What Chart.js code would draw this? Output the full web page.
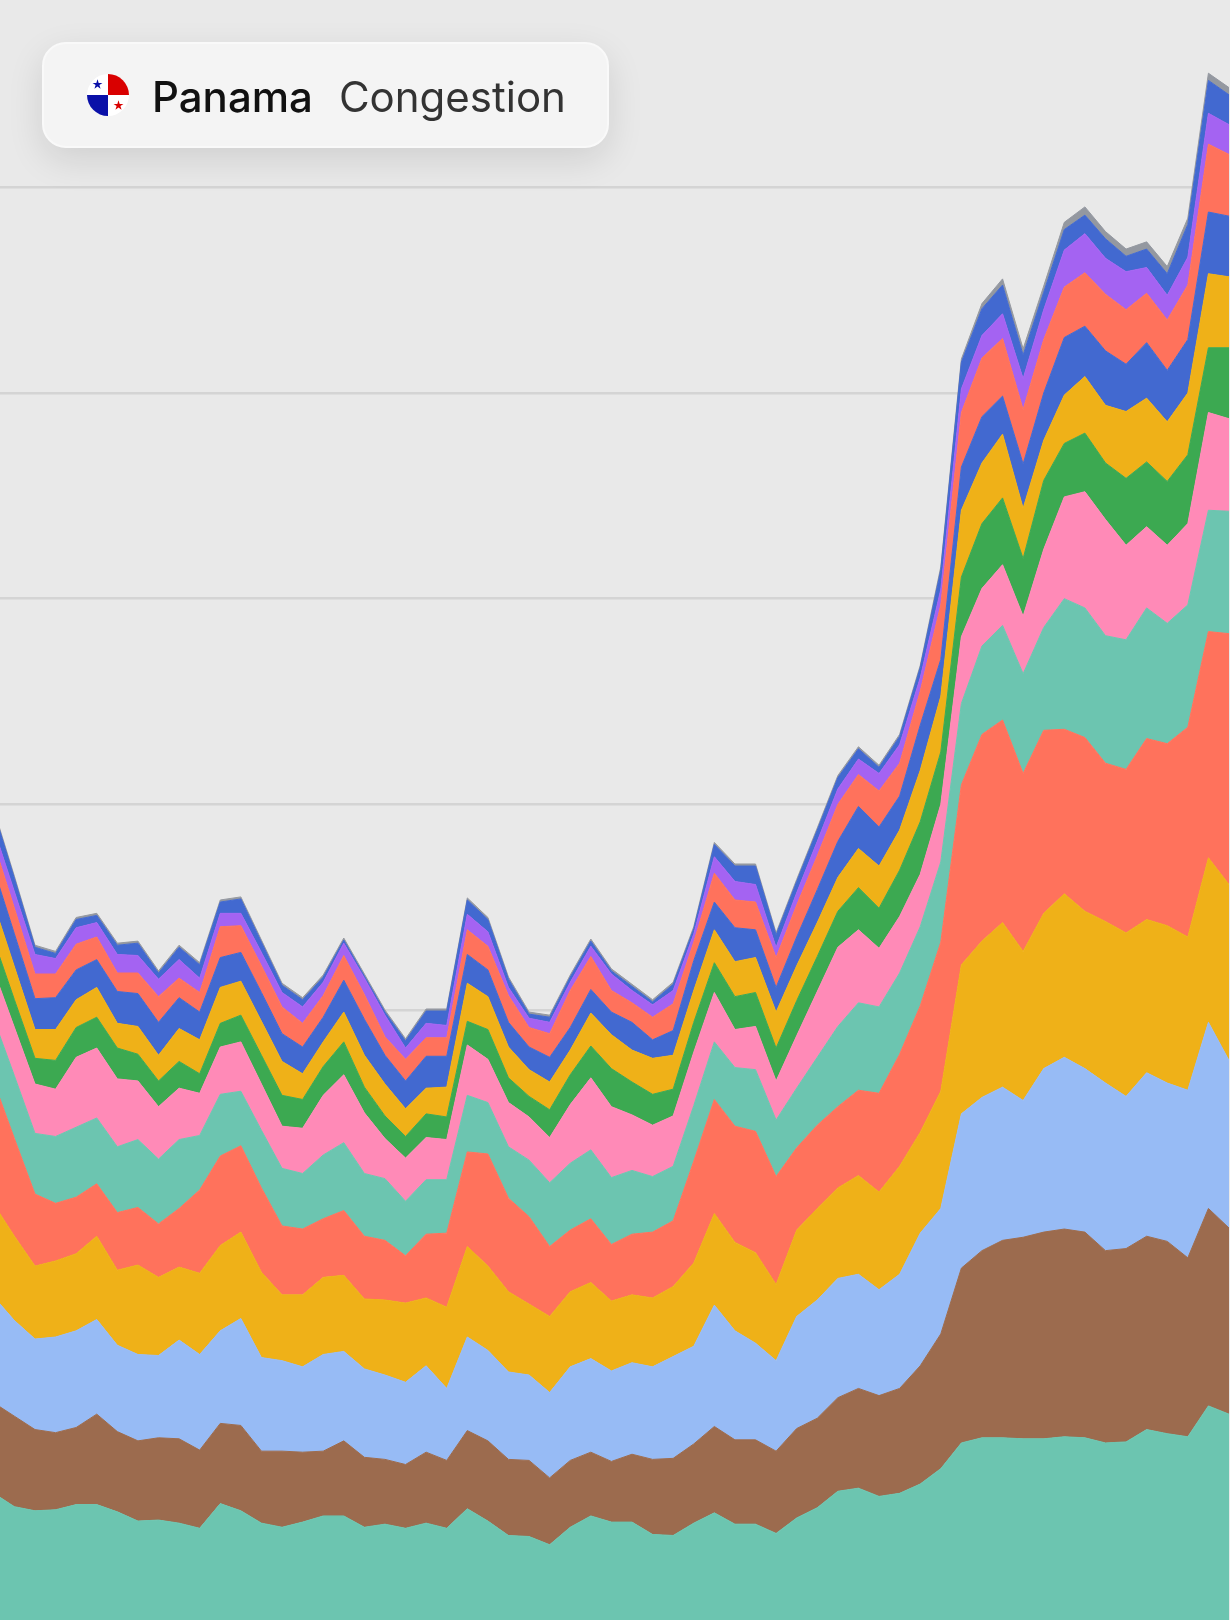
<!DOCTYPE html>
<html>
<head>
<meta charset="utf-8">
<script src="https://cdn.jsdelivr.net/npm/chart.js@4.4.1/dist/chart.umd.min.js"></script>
<style>
    html, body { margin: 0; padding: 0; background: #e9e9e9; width: 1230px; height: 1620px; overflow: hidden; }
    #wrap { position: absolute; left: 0; top: 0; width: 1229px; height: 1620px; }
    .card {
        position: absolute; left: 42px; top: 42px; width: 567px; height: 106px; box-sizing: border-box;
        border-radius: 24px; background: #f4f4f4; border: 2px solid #f9f9f9;
        box-shadow: 0 12px 36px rgba(0, 0, 0, 0.11);
        display: flex; align-items: center; font-family: Inter, 'Noto Sans', sans-serif;
    }
    .flag { margin-left: 43px; width: 42px; height: 42px; display: block; }
    .country { margin-left: 23px; font-size: 42px; font-weight: 500; color: #111; position: relative; top: 1px; }
    .metric { margin-left: 26px; font-size: 42px; font-weight: 400; color: #333; position: relative; top: 1px; }
</style>
</head>
<body>
<div id="wrap"><canvas id="chart" width="1229" height="1620"></canvas></div>

<div class="card">
    <svg class="flag" viewBox="0 0 42 42">
        <defs><clipPath id="c"><circle cx="21" cy="21" r="21"/></clipPath></defs>
        <g clip-path="url(#c)">
            <rect x="0" y="0" width="42" height="42" fill="#ffffff"/>
            <rect x="21" y="0" width="21" height="21" fill="#d90000"/>
            <rect x="0" y="21" width="21" height="21" fill="#0a10a8"/>
            <polygon transform="translate(10.5,10.5) scale(5.2)" fill="#0a10a8"
                points="0,-1 0.2245,-0.309 0.951,-0.309 0.363,0.118 0.588,0.809 0,0.382 -0.588,0.809 -0.363,0.118 -0.951,-0.309 -0.2245,-0.309"/>
            <polygon transform="translate(31.5,31.5) scale(5.2)" fill="#d90000"
                points="0,-1 0.2245,-0.309 0.951,-0.309 0.363,0.118 0.588,0.809 0,0.382 -0.588,0.809 -0.363,0.118 -0.951,-0.309 -0.2245,-0.309"/>
        </g>
    </svg>
    <span class="country">Panama</span>
    <span class="metric">Congestion</span>
</div>

<script>
/***************************************************** Datos *****************************************************/
// periodos (eje x), 61 puntos
const periods = Array.from({ length: 61 }, (_, i) => i);
// lineas de la cuadricula
const gridValues = [200, 400, 600, 800, 1000, 1200, 1400];

// capas apiladas, de abajo hacia arriba
const s01 = [130,117,113,114,119,119,112,103,104,101, 96,120,113,101,97,102,108,108,97,100, 96,101,96,115,103,89,88,80,97,108, 102,102,90,89,101,111,100,100,91,106, 116,132,135,127,130,139,154,179,184,184, 183,183,185,184,179,180,192,188,185,215, 207];
const s02 = [88,88,79,75,75,88,78,78,80,82, 76,78,83,70,74,68,63,73,68,63, 62,69,66,76,78,74,74,65,65,62, 59,66,73,75,77,84,82,82,80,87, 87,91,97,98,102,115,131,170,182,192, 196,201,202,200,187,188,188,187,174,192, 181];
const s03 = [103,93,88,93,94,92,84,84,80,96, 93,90,104,91,88,83,94,87,86,82, 80,84,70,91,88,85,83,83,91,91, 88,89,90,99,95,118,106,94,88,109, 115,116,111,103,111,129,122,150,149,149, 133,159,167,159,163,148,159,154,163,181, 163];
const s04 = [90,82,71,74,75,81,73,87,76,71, 79,83,84,83,64,70,75,74,68,73, 77,66,79,88,82,78,69,74,73,74, 68,66,67,68,81,89,86,88,74,84, 89,88,96,95,105,98,114,145,152,160, 145,151,159,153,157,159,149,153,149,160, 171];
const s05 = [119,95,70,56,55,51,56,56,52,57, 81,87,84,82,67,64,57,63,61,58, 46,62,72,92,109,91,85,68,60,62, 55,59,64,64,99,111,113,118,105,80, 81,79,83,96,109,123,145,175,201,197, 173,178,160,169,154,159,176,177,204,220, 244];
const s06 = [61,61,59,65,68,64,64,66,63,67, 53,60,53,56,56,54,62,66,61,60, 53,53,52,55,50,50,55,62,65,67, 65,62,54,53,54,56,57,60,55,58, 66,78,85,84,79,77,78,79,86,92, 97,100,127,126,124,126,127,117,119,118, 119];
const s07 = [47,47,48,46,68,68,66,57,51,50, 41,46,48,45,41,44,58,66,59,39, 42,41,39,49,42,43,42,44,57,70, 69,54,50,49,52,48,37,42,38,51, 64,77,71,57,55,51,56,65,56,59, 56,76,99,113,113,92,79,76,79,95, 90];
const s08 = [30,27,25,28,29,30,30,26,25,26, 19,23,26,28,30,28,28,32,25,22, 21,23,22,23,29,24,20,27,29,31, 37,32,30,26,29,29,32,33,32,34, 34,35,41,39,45,51,51,58,63,65, 56,67,52,57,55,65,63,62,67,63, 69];
const s09 = [35,32,28,30,27,29,24,27,25,32, 33,35,33,33,33,25,24,29,31,31, 27,25,29,37,32,30,26,27,24,32, 33,31,35,33,31,32,34,34,35,34, 33,33,38,41,39,50,54,65,59,62, 49,39,47,55,56,65,62,58,60,72, 69];
const s10 = [34,32,30,31,29,27,31,32,32,30, 27,29,28,28,27,26,24,31,35,28, 27,31,30,28,26,24,22,24,22,23, 22,27,18,24,29,27,33,27,24,28, 32,35,41,38,33,44,36,42,45,37, 43,46,56,49,53,46,54,50,52,60, 59];
const s11 = [25,25,24,23,25,22,18,20,25,19, 19,30,26,26,26,23,21,24,24,18, 21,18,18,24,23,26,19,23,36,32, 21,19,22,26,18,28,27,27,29,31, 33,36,31,35,32,33,53,53,57,56, 53,52,49,52,55,53,48,49,53,66, 60];
const s12 = [14,16,19,15,16,14,18,17,17,18, 14,13,12,13,14,16,13,12,16,21, 11,14,12,15,14,8,9,11,8,10, 16,12,12,13,8,16,18,17,10,12, 14,15,15,17,18,13,15,23,22,24, 30,29,36,38,35,37,25,24,27,30, 29];
const s13 = [17,13,7,5,8,7,9,12,6,12, 13,11,14,10,7,7,5,3,2,3, 7,12,14,14,12,8,4,5,5,5, 3,4,3,6,5,12,15,18,12,11, 11,11,10,6,8,10,19,26,26,28, 23,17,20,18,19,15,18,21,32,32, 29];
const s14 = [2,2,2,2,2,2,2,2,2,2, 2,2,2,2,2,2,2,2,2,2, 2,2,2,2,2,2,2,2,2,2, 2,2,2,2,2,2,2,2,2,2, 2,2,2,2,2,2,3,3,5,6, 6,6,7,8,7,7,7,7,6,7, 7];

const layers = [
    { label: 'Layer 1', color: '#6cc5b0', values: s01 },
    { label: 'Layer 2', color: '#9c6b4e', values: s02 },
    { label: 'Layer 3', color: '#97bbf5', values: s03 },
    { label: 'Layer 4', color: '#efb118', values: s04 },
    { label: 'Layer 5', color: '#ff725c', values: s05 },
    { label: 'Layer 6', color: '#6cc5b0', values: s06 },
    { label: 'Layer 7', color: '#ff8ab7', values: s07 },
    { label: 'Layer 8', color: '#3ca951', values: s08 },
    { label: 'Layer 9', color: '#efb118', values: s09 },
    { label: 'Layer 10', color: '#4269d0', values: s10 },
    { label: 'Layer 11', color: '#ff725c', values: s11 },
    { label: 'Layer 12', color: '#a463f2', values: s12 },
    { label: 'Layer 13', color: '#4269d0', values: s13 },
    { label: 'Layer 14', color: '#9498a0', values: s14 }
];

/***************************************************** Chart *****************************************************/
const datasets = layers.map((s, k) => ({
    label: s.label,
    data: s.values.map((v, i) => ({ x: periods[i], y: v })),
    backgroundColor: s.color,
    borderColor: s.color,
    borderWidth: 1,
    fill: k === 0 ? 'origin' : '-1',
    pointRadius: 0,
    tension: 0
}));

const config = {
    type: 'line',
    data: { datasets },
    options: {
        responsive: false,
        animation: false,
        events: [],
        layout: { padding: 0 },
        plugins: {
            legend: { display: false },
            tooltip: { enabled: false }
        },
        scales: {
            x: {
                type: 'linear',
                min: 0.3,   // el primer punto queda un poco fuera del borde izquierdo
                max: 60,
                display: false
            },
            y: {
                stacked: true,
                min: 6.8,
                max: 1582.2,
                ticks: { display: false },
                border: { display: false },
                grid: { color: '#d4d4d4', lineWidth: 2.5, drawTicks: false },
                afterBuildTicks: (scale) => {
                    scale.ticks = gridValues.map(v => ({ value: v }));
                }
            }
        }
    }
};

const myChart = new Chart(document.getElementById('chart'), config);
</script>
</body>
</html>
